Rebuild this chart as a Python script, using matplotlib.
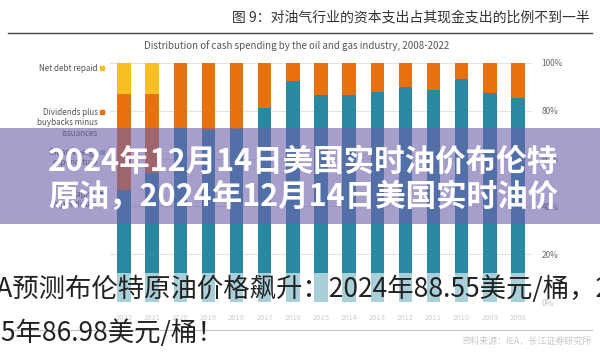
import matplotlib
matplotlib.use("Agg")
import matplotlib.pyplot as plt
from matplotlib.patches import Rectangle
from matplotlib.lines import Line2D
import numpy as np

plt.rcParams['font.family'] = ['Noto Sans CJK SC', 'DejaVu Sans']

# data, share of cash spending (%), years 2008..2022
years = [str(y) for y in range(2008, 2023)]
capex = [85.5, 87.6, 93.3, 88.7, 90.1, 87.7, 86.6, 86.6, 92.5, 81.3, 72.5, 72.0, 73.0, 54.0, 47.0]
net_debt = [0, 0, 0, 0, 0, 0, 0, 0, 0, 0, 0, 0, 0, 13.0, 13.0]
dividends = [100 - c - n for c, n in zip(capex, net_debt)]

legend_labels = ["Net debt repaid", "Dividends plus\nbuybacks minus\nissuances",
                 "Clean energy\nexpenditure", "Capital\nexpenditure"]
yticks = [0, 20, 40, 60, 80, 100]

W, H = 600, 353
fig = plt.figure(figsize=(W / 100, H / 100), dpi=100)
fig.set_facecolor("white")


def fx(x):
    return x / W


def fy(y):
    return 1 - y / H


c_teal = "#2a89a2"
c_orange = "#e8700f"
c_yellow = "#f6bf22"

ax = fig.add_axes([fx(110), fy(302), 422 / W, 239 / H])
x = np.arange(len(years))
ax.bar(x, capex, width=0.48, color=c_teal, zorder=2)
ax.bar(x, dividends, width=0.48, bottom=capex, color=c_orange, zorder=2)
ax.bar(x, net_debt, width=0.48, bottom=np.array(capex) + np.array(dividends), color=c_yellow, zorder=2)
ax.set_xlim(14.5, -0.5)
ax.set_ylim(0, 100)
ax.set_yticks(yticks)
ax.set_yticklabels([f"{t}%" for t in yticks], fontsize=6, color="#666")
ax.yaxis.tick_right()
ax.set_xticks(x)
ax.set_xticklabels(years, fontsize=5.5, color="#888")
ax.tick_params(length=0)
ax.tick_params(axis="y", pad=7)
ax.tick_params(axis="x", pad=9)
ax.grid(axis="y", color="#e2e2e2", lw=0.8, zorder=0)
for s in ax.spines.values():
    s.set_visible(False)

# headings
fig.text(fx(590), fy(18), "图 9：对油气行业的资本支出占其现金支出的比例不到一半",
         ha="right", va="center", fontsize=10, color="#333")
fig.add_artist(Line2D([fx(8), fx(592)], [fy(33), fy(33)], color="#444", lw=1))
fig.text(fx(297), fy(46), "Distribution of cash spending by the oil and gas industry, 2008-2022",
         ha="center", va="center", fontsize=7, color="#555")

# legend on the left
leg_y = [64, 108, 148, 190]
leg_c = [c_yellow, c_orange, "#9fc9d6", c_teal]
for lab, yy, cc in zip(legend_labels, leg_y, leg_c):
    fig.text(fx(98), fy(yy), lab, ha="right", va="top", fontsize=5.8, color="#555",
             linespacing=1.2, transform=fig.transFigure)
    fig.add_artist(Rectangle((fx(100), fy(yy + 6)), 4 / W, 4 / H, color=cc,
                             transform=fig.transFigure))

# bottom rule and source
fig.add_artist(Line2D([fx(8), fx(592)], [fy(330), fy(330)], color="#666", lw=0.8))
fig.text(fx(592), fy(341), "资料来源：IEA，长江证券研究所", ha="right", va="center",
         fontsize=6.5, color="#777")

# overlay bands
fig.add_artist(Rectangle((0, fy(224)), 1, (224 - 128) / H, color=(0.43, 0.37, 0.67),
                         alpha=0.6, lw=0, zorder=10, transform=fig.transFigure))
fig.add_artist(Rectangle((0, 0), 1, (H - 273) / H, color="white",
                         alpha=0.6, lw=0, zorder=10, transform=fig.transFigure))

fig.text(fx(48), fy(162), "2024年12月14日美国实时油价布伦特", ha="left", va="center",
         fontsize=22, fontweight="bold", color="white", zorder=11)
fig.text(fx(48), fy(197), "原油，2024年12月14日美国实时油价", ha="left", va="center",
         fontsize=22, fontweight="bold", color="white", zorder=11)

fig.text(fx(-27), fy(289), "EIA预测布伦特原油价格飙升：2024年88.55美元/桶，2025年86.98美元/桶！",
         ha="left", va="center", fontsize=19, fontweight="light", color="#222", zorder=11)
fig.text(fx(-42), fy(333), "2025年86.98美元/桶！", ha="left", va="center",
         fontsize=19, fontweight="light", color="#222", zorder=11)

fig.savefig("out.png", dpi=100)
